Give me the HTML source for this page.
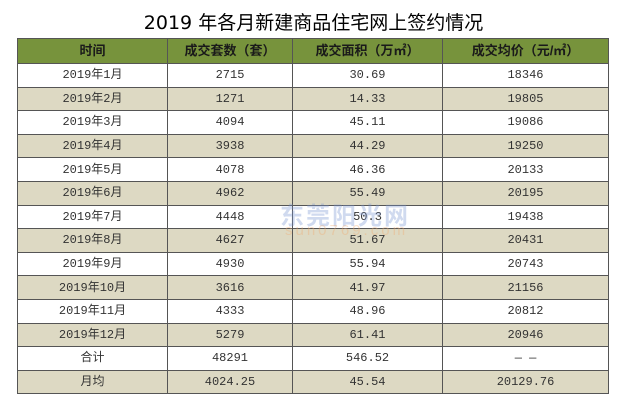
<!DOCTYPE html>
<html><head><meta charset="utf-8"><style>
body{margin:0;width:627px;height:401px;background:#fff;position:relative;overflow:hidden;font-family:"Liberation Sans","Noto Sans CJK SC",sans-serif}
#title{position:absolute;left:0;top:8px;width:627px;text-align:center;font-size:19px;color:#000;font-family:"DejaVu Sans","Noto Sans CJK SC",sans-serif}
table{position:absolute;left:17px;top:38px;width:591px;border-collapse:collapse;table-layout:fixed}
td,th{border:1px solid #555;text-align:center;font-size:12px;color:#333;padding:0;line-height:14px;font-family:"Liberation Mono","Noto Sans CJK SC",monospace}
th{background:#77933c;height:24px;font-weight:bold;color:#1a1a1a;font-family:"Liberation Sans","Noto Sans CJK SC",sans-serif;font-size:13px}
td{height:22.6px}
tr.b td{background:#ddd9c3}
#wm{position:absolute;left:280px;top:196px;font-size:24px;font-weight:bold;color:rgba(120,150,210,0.35);letter-spacing:2px}
#wm2{position:absolute;left:285px;top:222px;font-size:15px;color:rgba(240,170,110,0.35);letter-spacing:3px}
</style></head><body>
<div id="title">2019 年各月新建商品住宅网上签约情况</div>
<table>
<colgroup><col style="width:150px"><col style="width:125px"><col style="width:150px"><col style="width:166px"></colgroup>
<tr><th>时间</th><th>成交套数（套）</th><th>成交面积（万㎡）</th><th>成交均价（元/㎡）</th></tr>
<tr><td>2019年1月</td><td>2715</td><td>30.69</td><td>18346</td></tr>
<tr class="b"><td>2019年2月</td><td>1271</td><td>14.33</td><td>19805</td></tr>
<tr><td>2019年3月</td><td>4094</td><td>45.11</td><td>19086</td></tr>
<tr class="b"><td>2019年4月</td><td>3938</td><td>44.29</td><td>19250</td></tr>
<tr><td>2019年5月</td><td>4078</td><td>46.36</td><td>20133</td></tr>
<tr class="b"><td>2019年6月</td><td>4962</td><td>55.49</td><td>20195</td></tr>
<tr><td>2019年7月</td><td>4448</td><td>50.3</td><td>19438</td></tr>
<tr class="b"><td>2019年8月</td><td>4627</td><td>51.67</td><td>20431</td></tr>
<tr><td>2019年9月</td><td>4930</td><td>55.94</td><td>20743</td></tr>
<tr class="b"><td>2019年10月</td><td>3616</td><td>41.97</td><td>21156</td></tr>
<tr><td>2019年11月</td><td>4333</td><td>48.96</td><td>20812</td></tr>
<tr class="b"><td>2019年12月</td><td>5279</td><td>61.41</td><td>20946</td></tr>
<tr><td>合计</td><td>48291</td><td>546.52</td><td>— —</td></tr>
<tr class="b"><td>月均</td><td>4024.25</td><td>45.54</td><td>20129.76</td></tr>
</table>
<div id="wm">东莞阳光网</div>
<div id="wm2">sun0769.com</div>
</body></html>
